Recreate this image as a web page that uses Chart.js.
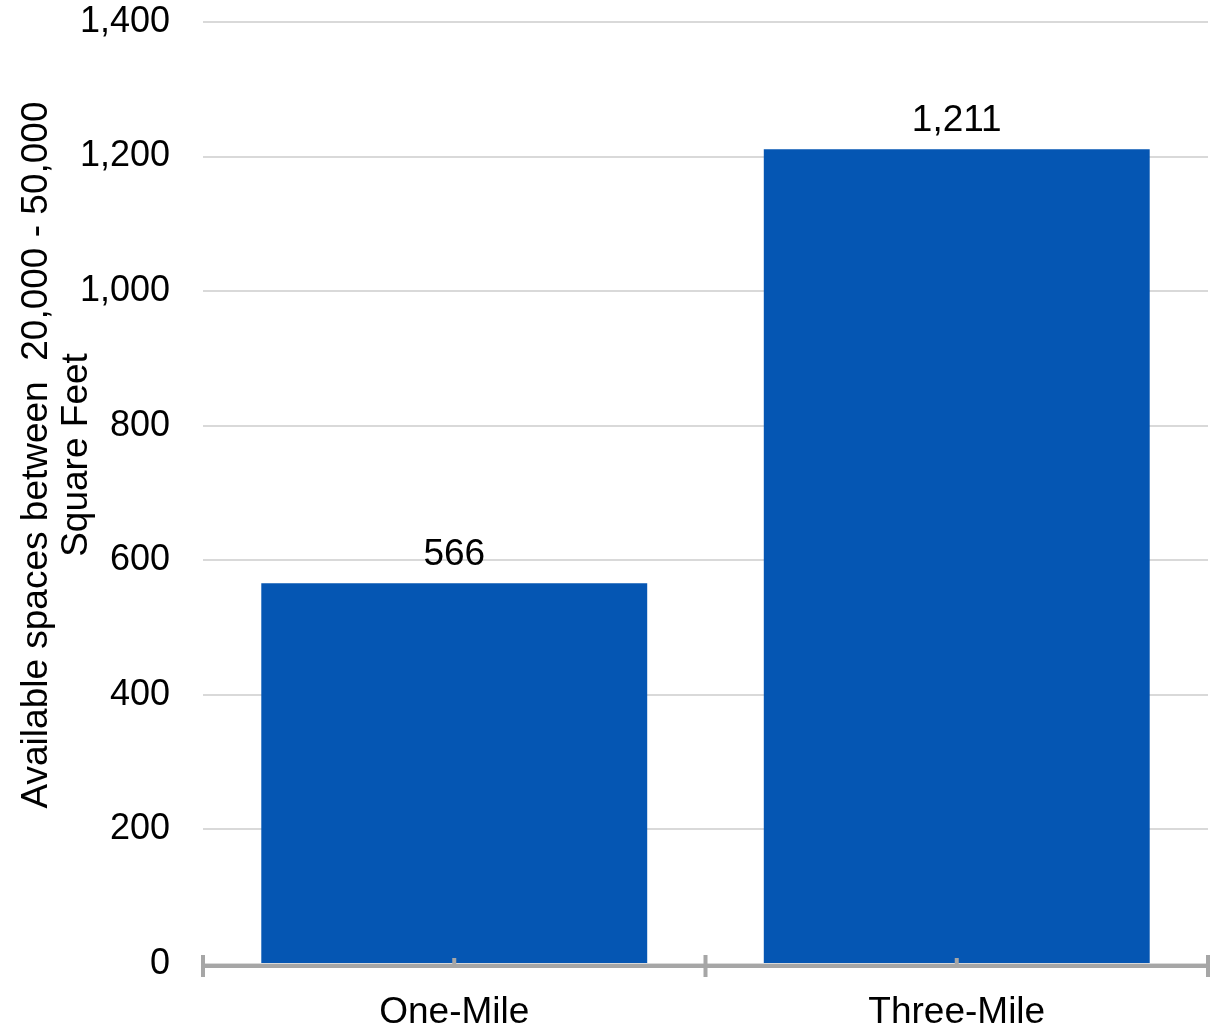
<!DOCTYPE html>
<html>
<head>
<meta charset="utf-8">
<script src="https://cdn.jsdelivr.net/npm/chart.js@4/dist/chart.umd.min.js"></script>
<style>
  html, body { margin: 0; padding: 0; background: #ffffff; }
  #wrap { width: 1220px; height: 1028px; }
</style>
</head>
<body>
<div id="wrap"><canvas id="chart" width="1220" height="1028"></canvas></div>
<script>
// Available spaces by trade-area radius
const categories = ['One-Mile', 'Three-Mile'];
const spaceCounts = [566, 1211];
const yTickValues = [0, 200, 400, 600, 800, 1000, 1200, 1400];
const yTitleLines = ['Available spaces between  20,000 - 50,000', 'Square Feet'];

const FONT = '"Liberation Sans", Arial, sans-serif';
const BAR_COLOR = '#0556B3';
const GRID_COLOR = '#d9d9d9';
const AXIS_COLOR = '#a6a6a6';

const fmt = v => v.toLocaleString('en-US');

// Category axis: baseline with boundary ticks and centre ticks
const categoryAxisPlugin = {
  id: 'categoryAxis',
  afterDatasetsDraw(chart) {
    const ctx = chart.ctx;
    const xs = chart.scales.x;
    const y0 = chart.chartArea.bottom;
    const n = chart.data.labels.length;
    const centers = [];
    for (let i = 0; i < n; i++) centers.push(xs.getPixelForValue(i));
    const bounds = [xs.left];
    for (let i = 0; i < n - 1; i++) bounds.push((centers[i] + centers[i + 1]) / 2);
    bounds.push(xs.right);
    ctx.save();
    ctx.strokeStyle = AXIS_COLOR;
    ctx.lineWidth = 4;
    ctx.beginPath();
    ctx.moveTo(xs.left, y0 + 2);
    ctx.lineTo(xs.right, y0 + 2);
    ctx.stroke();
    ctx.beginPath();
    bounds.forEach(b => { ctx.moveTo(b, y0 - 9); ctx.lineTo(b, y0 + 13); });
    centers.forEach(c => { ctx.moveTo(c, y0 - 6); ctx.lineTo(c, y0 + 2); });
    ctx.stroke();
    ctx.restore();
  }
};

// Value labels above each bar
const valueLabelPlugin = {
  id: 'valueLabels',
  afterDatasetsDraw(chart) {
    const ctx = chart.ctx;
    const meta = chart.getDatasetMeta(0);
    const data = chart.data.datasets[0].data;
    ctx.save();
    ctx.font = '37px ' + FONT;
    ctx.fillStyle = '#000000';
    ctx.textAlign = 'center';
    ctx.textBaseline = 'alphabetic';
    meta.data.forEach((bar, i) => {
      ctx.fillText(fmt(data[i]), bar.x, bar.y - 18);
    });
    ctx.restore();
  }
};

// Rotated two-line value-axis title
const yTitlePlugin = {
  id: 'yTitle',
  afterDraw(chart) {
    const ctx = chart.ctx;
    ctx.save();
    ctx.font = '37px ' + FONT;
    ctx.fillStyle = '#000000';
    ctx.textAlign = 'center';
    ctx.textBaseline = 'middle';
    ctx.translate(37, 455);
    ctx.rotate(-Math.PI / 2);
    yTitleLines.forEach((line, i) => ctx.fillText(line, 0, i * 40));
    ctx.restore();
  }
};

new Chart(document.getElementById('chart'), {
  type: 'bar',
  data: {
    labels: categories,
    datasets: [{
      data: spaceCounts,
      backgroundColor: BAR_COLOR,
      borderWidth: 0,
      barPercentage: 0.768,
      categoryPercentage: 1.0
    }]
  },
  options: {
    responsive: false,
    animation: false,
    events: [],
    layout: { autoPadding: false, padding: { top: 22, right: 12, bottom: 0, left: 0 } },
    plugins: {
      legend: { display: false },
      tooltip: { enabled: false },
      title: { display: false }
    },
    scales: {
      x: {
        afterFit(scale) { scale.height = 64; },
        grid: { display: false },
        border: { display: false },
        ticks: {
          color: '#000000',
          font: { family: FONT, size: 37 },
          padding: 19,
          maxRotation: 0
        }
      },
      y: {
        min: yTickValues[0],
        max: yTickValues[yTickValues.length - 1],
        afterFit(scale) { scale.width = 203; },
        afterBuildTicks(scale) { scale.ticks = yTickValues.map(v => ({ value: v })); },
        grid: { color: GRID_COLOR, lineWidth: 2, drawTicks: true, tickLength: 33, tickColor: 'rgba(0,0,0,0)' },
        border: { display: false },
        ticks: {
          color: '#000000',
          font: { family: FONT, size: 36 },
          padding: 0,
          callback: v => fmt(v)
        }
      }
    }
  },
  plugins: [categoryAxisPlugin, valueLabelPlugin, yTitlePlugin]
});
</script>
</body>
</html>
